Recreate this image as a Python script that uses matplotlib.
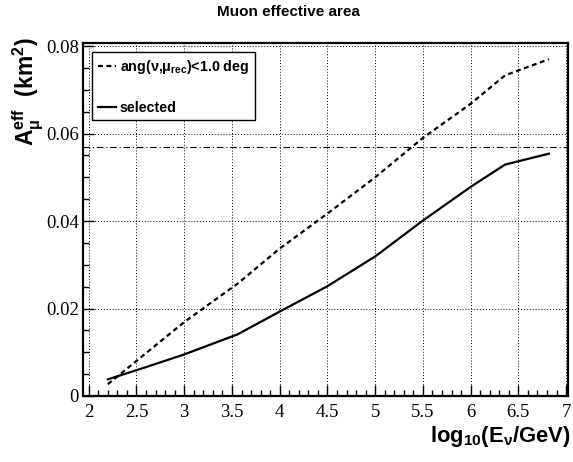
import numpy as np
import matplotlib
matplotlib.use("Agg")
import matplotlib.pyplot as plt
from matplotlib.ticker import MultipleLocator

plt.rcParams['font.family'] = ['Liberation Serif', 'DejaVu Serif']
plt.rcParams['mathtext.fontset'] = 'custom'
plt.rcParams['mathtext.rm'] = 'Liberation Sans:bold'
plt.rcParams['mathtext.it'] = 'Liberation Sans:bold'
plt.rcParams['mathtext.bf'] = 'Liberation Sans:bold'

# log10(E_nu/GeV) sample points and effective areas (km^2)
log_e = [2.2, 2.6, 3.0, 3.56, 4.0, 4.5, 5.0, 5.5, 6.0, 6.36, 6.82]
area_ang = [0.0027, 0.0098, 0.0169, 0.0257, 0.0337, 0.0417, 0.0500, 0.0590, 0.0668, 0.0733, 0.0770]
area_sel = [0.0038, 0.0066, 0.0095, 0.0141, 0.0193, 0.0251, 0.0319, 0.0401, 0.0478, 0.0529, 0.0554]
ref_level = 0.0569

fig = plt.figure(figsize=(5.73, 4.62), dpi=100)
ax = fig.add_axes([0.1449, 0.1429, 0.8464, 0.764])

ax.plot(log_e, area_ang, color='black', lw=1.6, dashes=(2.2, 1.6),
        label=r'ang($\nu$,$\mu_{rec}$)<1.0 deg')
ax.plot(log_e, area_sel, color='black', lw=1.6, label='selected')
ax.axhline(ref_level, color='black', lw=0.8, dashes=(6, 2.5, 1, 2.5))

ax.set_xlim(1.94, 7.02)
ax.set_ylim(0, 0.0807)
ax.xaxis.set_major_locator(MultipleLocator(0.5))
ax.xaxis.set_minor_locator(MultipleLocator(0.1))
ax.yaxis.set_major_locator(MultipleLocator(0.02))
ax.yaxis.set_minor_locator(MultipleLocator(0.005))
ax.xaxis.set_major_formatter(plt.FuncFormatter(lambda v, p: f'{v:g}'))
ax.yaxis.set_major_formatter(plt.FuncFormatter(lambda v, p: '0' if v == 0 else f'{v:.2f}'))

ax.grid(True, which='major', color='black', lw=0.7, ls=(0, (1, 2)))
ax.tick_params(which='both', direction='in', top=False, right=False, colors='black',
               labelsize=13.5)
ax.tick_params(which='major', length=8, width=1)
ax.tick_params(which='minor', length=4.5, width=1)
ax.tick_params(axis='x', pad=6)
ax.tick_params(axis='y', pad=3)
for sp in ax.spines.values():
    sp.set_linewidth(1.6)

ax.set_xlabel(r'log$_{\mathbf{10}}$(E$_{\nu}$/GeV)', fontsize=15.8, fontweight='bold',
              family='Liberation Sans', loc='right')
ax.xaxis.set_label_coords(1.005, -0.08)
ax.set_ylabel(r'A$_{\mu}^{\mathbf{eff}}$  (km$^{\mathbf{2}}$)', fontsize=16.5, fontweight='bold',
              family='Liberation Sans', loc='top')
ax.yaxis.set_label_coords(-0.078, 1.015)

fig.text(0.503, 0.974, 'Muon effective area', ha='center', va='center',
         fontsize=11, fontweight='bold', family='Liberation Sans')

leg = ax.legend(loc='upper left', bbox_to_anchor=(0.0186, 0.9745), fancybox=False,
                edgecolor='black', framealpha=1, handlelength=1.3, handletextpad=0.25,
                labelspacing=1.75, borderpad=0.4, borderaxespad=0,
                prop={'family': 'Liberation Sans', 'weight': 'bold', 'size': 10.3})
leg.get_frame().set_linewidth(1.0)

fig.savefig('out.png', dpi=100)
